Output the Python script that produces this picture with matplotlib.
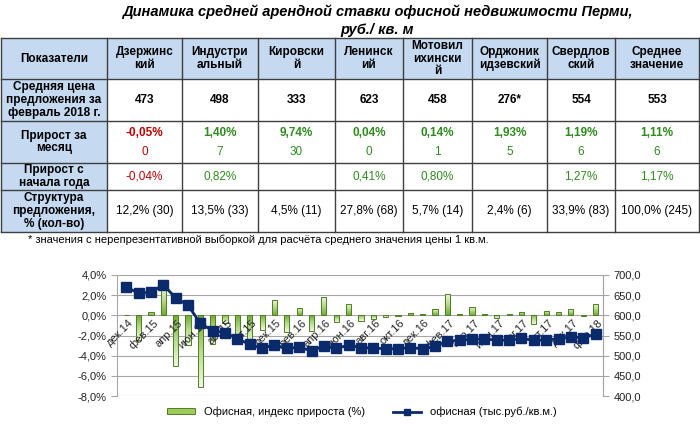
import matplotlib
matplotlib.use("Agg")
import numpy as np
import matplotlib.pyplot as plt
from matplotlib.patches import Rectangle, Patch
from matplotlib.lines import Line2D
from matplotlib.colors import LinearSegmentedColormap

plt.rcParams['font.family'] = ['Liberation Sans', 'DejaVu Sans']

# --- table data ---
districts = ["Дзержинс\nкий", "Индустри\nальный", "Кировски\nй", "Ленинск\nий",
             "Мотовил\nихински\nй", "Орджоник\nидзевский", "Свердлов\nский", "Среднее\nзначение"]
row_names = ["Показатели", "Средняя цена\nпредложения за\nфевраль 2018 г.",
             "Прирост за\nмесяц", "Прирост с\nначала года", "Структура\nпредложения,\n% (кол-во)"]
price = ["473", "498", "333", "623", "458", "276*", "554", "553"]
month_growth = [-0.05, 1.40, 9.74, 0.04, 0.14, 1.93, 1.19, 1.11]
month_count = [0, 7, 30, 0, 1, 5, 6, 6]
year_growth = [-0.04, 0.82, None, 0.41, 0.80, None, 1.27, 1.17]
structure = ["12,2% (30)", "13,5% (33)", "4,5% (11)", "27,8% (68)", "5,7% (14)",
             "2,4% (6)", "33,9% (83)", "100,0% (245)"]

# --- chart data ---
mon_abbr = ["янв", "фев", "мар", "апр", "май", "июн", "июл", "авг", "сен", "окт", "ноя", "дек"]
months = ["дек.14"] + [f"{m}.{y}" for y in (15, 16, 17) for m in mon_abbr] + ["янв.18", "фев.18"]
growth = [0.0, -2.4, 0.3, 2.9, -5.0, -2.9, -7.1, -2.8, -0.8, -2.7, -2.7, -1.45, 1.5,
          -1.65, 0.7, -1.55, 1.8, -0.65, 1.15, -0.6, -0.35, -0.13, -0.05, 0.26, 0.1,
          0.65, 2.15, 0.1, 0.8, 0.1, -0.25, 0.15, 0.35, -0.9, 0.4, 0.3, 0.6, -0.03, 1.11]
rent = [670, 655, 657, 676, 643, 625, 580, 562, 557, 542, 528, 518, 527, 518, 521, 512,
        524, 518, 526, 520, 519, 517, 517, 520, 517, 523, 536, 538, 541, 541, 539, 538,
        543, 538, 539, 542, 546, 545, 553]

RED = "#C00000"
GREEN = "#2E8B1E"
BLUE_BG = "#C5D9F1"
GRID = "#3F3F3F"
BAR_EDGE = "#4F7F22"
NAVY = "#0B2A6B"


def pct(v):
    return f"{v:.2f}%".replace(".", ",")


fig = plt.figure(figsize=(7, 4.3), dpi=100)

# ---- title + table on a pixel-space overlay ----
tax = fig.add_axes([0, 0, 1, 1])
tax.set_xlim(0, 700)
tax.set_ylim(430, 0)
tax.axis("off")

tax.text(377, 12, "Динамика средней арендной ставки офисной недвижимости Перми,",
         ha="center", va="center", fontsize=10.5, fontweight="bold", style="italic")
tax.text(377, 30, "руб./ кв. м", ha="center", va="center", fontsize=10.5,
         fontweight="bold", style="italic")

col_x = [1, 107, 182, 258, 335, 403, 472, 547, 615, 699]
row_y = [38, 79, 121, 163, 190, 232]

# backgrounds
tax.add_patch(Rectangle((col_x[0], row_y[0]), col_x[-1] - col_x[0], row_y[1] - row_y[0],
                        facecolor=BLUE_BG, edgecolor="none"))
tax.add_patch(Rectangle((col_x[0], row_y[1]), col_x[1] - col_x[0], row_y[-1] - row_y[1],
                        facecolor=BLUE_BG, edgecolor="none"))
for x in col_x:
    tax.plot([x, x], [row_y[0], row_y[-1]], color=GRID, lw=1)
for y in row_y:
    tax.plot([col_x[0], col_x[-1]], [y, y], color=GRID, lw=1)

fs = 8.5
mid = lambda a, b: (a + b) / 2
for r, name in enumerate(row_names):
    tax.text(mid(col_x[0], col_x[1]), mid(row_y[r], row_y[r + 1]), name, ha="center",
             va="center", fontsize=fs, fontweight="bold", linespacing=1.1)

for c in range(len(districts)):
    cx = mid(col_x[c + 1], col_x[c + 2])
    tax.text(cx, mid(row_y[0], row_y[1]), districts[c], ha="center", va="center",
             fontsize=fs, fontweight="bold", linespacing=1.05)
    tax.text(cx, mid(row_y[1], row_y[2]), price[c], ha="center", va="center",
             fontsize=fs, fontweight="bold")
    col = RED if month_growth[c] < 0 else GREEN
    tax.text(cx, row_y[2] + 12, pct(month_growth[c]), ha="center", va="center",
             fontsize=fs, fontweight="bold", color=col)
    tax.text(cx, row_y[2] + 31, str(month_count[c]), ha="center", va="center",
             fontsize=fs, color=col)
    if year_growth[c] is not None:
        col = RED if year_growth[c] < 0 else GREEN
        tax.text(cx, mid(row_y[3], row_y[4]), pct(year_growth[c]), ha="center",
                 va="center", fontsize=fs, color=col)
    tax.text(cx, mid(row_y[4], row_y[5]), structure[c], ha="center", va="center",
             fontsize=fs)

tax.text(28, 240, "* значения с нерепрезентативной выборкой для расчёта среднего значения цены 1 кв.м.",
         ha="left", va="center", fontsize=8)

# ---- chart ----
ax = fig.add_axes([117 / 700, 1 - 396 / 430, (603 - 117) / 700, (396 - 275) / 430])
x = list(range(len(months)))
bars = ax.bar(x, growth, width=0.42, color="none", edgecolor=BAR_EDGE, linewidth=0.7, zorder=3)

# gradient fill: darker green near the axis, pale at the tip
gcmap = LinearSegmentedColormap.from_list("g", ["#6EAD36", "#B9DB8E", "#EEF7E3"])
grad = np.linspace(0, 1, 64).reshape(-1, 1)
for b, v in zip(bars, growth):
    if v == 0:
        continue
    x0 = b.get_x()
    im = ax.imshow(grad, extent=[x0, x0 + b.get_width(), 0, v], origin="lower",
                   aspect="auto", cmap=gcmap, zorder=2, interpolation="bilinear")
    im.set_clip_path(b)

ax.set_xlim(-0.75, 38.6)
ax.set_ylim(-8, 4)
ax.set_yticks([-8, -6, -4, -2, 0, 2, 4])
ax.set_yticklabels([f"{v:.1f}%".replace(".", ",") for v in [-8, -6, -4, -2, 0, 2, 4]])
ax.set_xticks([])
ax.grid(axis="y", color="#A6A6A6", lw=0.8, zorder=0)
ax.set_axisbelow(True)
for s in ("top", "bottom"):
    ax.spines[s].set_visible(False)
for s in ("left", "right"):
    ax.spines[s].set_color("#A6A6A6")
ax.tick_params(axis="y", labelsize=8, length=4, color="#A6A6A6", labelcolor="#222222")
for i in range(0, len(months), 2):
    ax.text(i + 0.15, -0.25, months[i], rotation=45, rotation_mode="anchor", ha="right",
            va="top", fontsize=8, color="#222222", zorder=4)

ax2 = ax.twinx()
ax2.plot(x, rent, color=NAVY, lw=2, marker="s", markersize=7,
         markerfacecolor=NAVY, markeredgecolor=NAVY)
ax2.set_ylim(400, 700)
ax2.set_yticks(range(400, 701, 50))
ax2.set_yticklabels([f"{v:.1f}".replace(".", ",") for v in range(400, 701, 50)])
ax2.tick_params(axis="y", labelsize=8, length=4, color="#A6A6A6", labelcolor="#222222")
for s in ("top", "bottom", "left"):
    ax2.spines[s].set_visible(False)
ax2.spines["right"].set_color("#A6A6A6")

handles = [Patch(facecolor="#9CCB5C", edgecolor=BAR_EDGE, linewidth=0.7),
           Line2D([0], [0], color=NAVY, lw=2, marker="s", markersize=5)]
fig.legend(handles, ["Офисная, индекс прироста (%)", "офисная (тыс.руб./кв.м.)"],
           loc="center", bbox_to_anchor=(0.517, 0.042), ncol=2, frameon=False,
           fontsize=8, handlelength=2.5, handleheight=0.5, columnspacing=2.5)

fig.savefig("out.png", dpi=100)
